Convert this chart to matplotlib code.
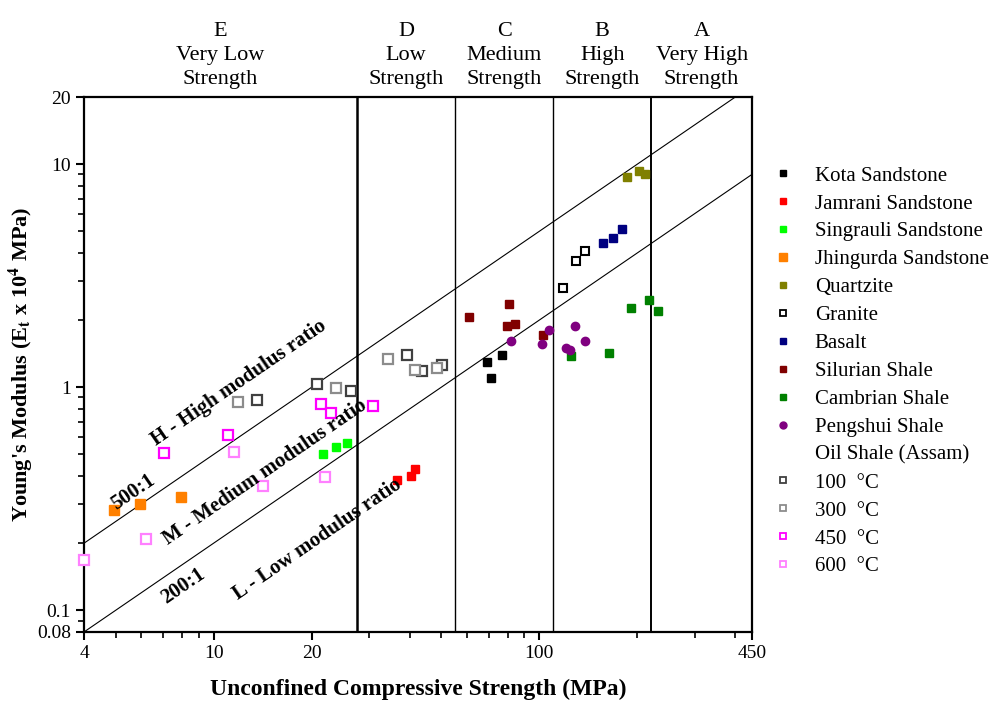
import matplotlib
matplotlib.use("Agg")
import matplotlib.pyplot as plt
from matplotlib.lines import Line2D
from matplotlib.ticker import FixedLocator, NullFormatter

plt.rcParams['font.family'] = ['Liberation Serif', 'DejaVu Serif']
plt.rcParams['mathtext.fontset'] = 'stix'

# rock data: UCS (MPa) and Young's modulus (x 1e4 MPa)
kota_x = [68.9, 70.9, 76.8]
kota_y = [1.30, 1.10, 1.40]
jamrani_x = [36.6, 40.4, 41.5]
jamrani_y = [0.384, 0.402, 0.432]
singrauli_x = [21.7, 23.7, 25.6]
singrauli_y = [0.504, 0.542, 0.563]
jhingurda_x = [4.95, 5.94, 7.94]
jhingurda_y = [0.282, 0.301, 0.322]
quartzite_x = [186.6, 203.0, 211.8]
quartzite_y = [8.79, 9.35, 9.06]
granite_x = [118.0, 129.9, 137.7]
granite_y = [2.80, 3.69, 4.09]
basalt_x = [156.8, 169.0, 179.2]
basalt_y = [4.41, 4.69, 5.12]
silurian_x = [60.9, 80.7, 79.4, 84.2, 102.9]
silurian_y = [2.06, 2.35, 1.89, 1.92, 1.71]
cambrian_x = [125.4, 163.6, 191.4, 216.8, 231.5]
cambrian_y = [1.38, 1.42, 2.27, 2.47, 2.19]
pengshui_x = [81.9, 107.4, 102.2, 128.3, 121.1, 123.9, 138.3]
pengshui_y = [1.62, 1.81, 1.56, 1.88, 1.50, 1.47, 1.61]

# oil shale (Assam) after heating
t100_x = [13.6, 20.8, 26.5, 39.2, 43.6, 50.2]
t100_y = [0.873, 1.039, 0.961, 1.40, 1.18, 1.256]
t300_x = [11.9, 23.7, 34.2, 41.5, 48.6]
t300_y = [0.861, 0.994, 1.344, 1.196, 1.221]
t450_x = [7.04, 11.05, 21.4, 22.9, 30.8]
t450_y = [0.508, 0.611, 0.845, 0.767, 0.820]
t600_x = [4.0, 6.2, 11.58, 14.2, 22.0]
t600_y = [0.168, 0.208, 0.511, 0.36, 0.398]

# strength class boundaries (MPa) and header labels
bounds = [4, 27.6, 55.2, 110.3, 220.6, 450]
bound_widths = [1.8, 1.0, 1.0, 1.4]
classes = ["E\nVery Low\nStrength", "D\nLow\nStrength", "C\nMedium\nStrength",
           "B\nHigh\nStrength", "A\nVery High\nStrength"]

x_major = [4, 10, 20, 100, 450]
y_major = [0.08, 0.1, 1, 10, 20]

filled = [
    ("Kota Sandstone", kota_x, kota_y, "black", 5.5),
    ("Jamrani Sandstone", jamrani_x, jamrani_y, "#ff0000", 5.5),
    ("Singrauli Sandstone", singrauli_x, singrauli_y, "#00ff00", 5.5),
    ("Jhingurda Sandstone", jhingurda_x, jhingurda_y, "#ff8000", 7),
    ("Quartzite", quartzite_x, quartzite_y, "#808000", 5.5),
]
filled2 = [
    ("Basalt", basalt_x, basalt_y, "#000080"),
    ("Silurian Shale", silurian_x, silurian_y, "#800000"),
    ("Cambrian Shale", cambrian_x, cambrian_y, "#008000"),
]
heated = [
    ("100  °C", t100_x, t100_y, "#404040"),
    ("300  °C", t300_x, t300_y, "#8c8c8c"),
    ("450  °C", t450_x, t450_y, "#ff00ff"),
    ("600  °C", t600_x, t600_y, "#ff80ff"),
]

fig = plt.figure(figsize=(9.93, 7.04), dpi=100)
ax = fig.add_axes([0.0846, 0.1023, 0.6727, 0.7599])
ax.set_xscale("log")
ax.set_yscale("log")
ax.set_xlim(4, 450)
ax.set_ylim(0.08, 20)

# modulus ratio lines
xs = [4, 450]
ax.plot(xs, [0.05 * v for v in xs], color="black", lw=0.8)
ax.plot(xs, [0.02 * v for v in xs], color="black", lw=0.8)

for b, w in zip(bounds[1:-1], bound_widths):
    ax.axvline(b, color="black", lw=w)

handles = []
labels = []
for name, x, y, c, ms in filled:
    ax.plot(x, y, "s", color=c, ms=ms, mec=c, ls="none", zorder=3)
    handles.append(Line2D([], [], marker="s", color=c, ms=ms - 1, ls="none"))
    labels.append(name)

ax.plot(granite_x, granite_y, "s", mfc="white", mec="black", mew=1.5, ms=6, zorder=3)
handles.append(Line2D([], [], marker="s", mfc="white", mec="black", mew=1.3, ms=5, ls="none"))
labels.append("Granite")

for name, x, y, c in filled2:
    ax.plot(x, y, "s", color=c, ms=5.5, ls="none", zorder=3)
    handles.append(Line2D([], [], marker="s", color=c, ms=4.5, ls="none"))
    labels.append(name)

ax.plot(pengshui_x, pengshui_y, "o", color="#800080", ms=6, ls="none", zorder=3)
handles.append(Line2D([], [], marker="o", color="#800080", ms=5, ls="none"))
labels.append("Pengshui Shale")

handles.append(Line2D([], [], ls="none"))
labels.append("Oil Shale (Assam)")

for name, x, y, c in heated:
    ax.plot(x, y, "s", mfc="white", mec=c, mew=1.6, ms=6.5, ls="none", zorder=3, clip_on=False)
    handles.append(Line2D([], [], marker="s", mfc="white", mec=c, mew=1.3, ms=5, ls="none"))
    labels.append(name)

fig.legend(handles, labels, loc="upper left", bbox_to_anchor=(0.768, 0.776),
           frameon=False, fontsize=15, labelspacing=0.40, handletextpad=0.9,
           handlelength=1.2, borderaxespad=0)

# header labels at the middle of each class band
for i, txt in enumerate(classes):
    mid = (bounds[i] * bounds[i + 1]) ** 0.5
    ax.text(mid, 1.015, txt, transform=ax.get_xaxis_transform(), ha="center",
            va="bottom", fontsize=16, linespacing=1.35)

# ratio annotations
rot = 34.5
kw = dict(fontsize=15, fontweight="bold", rotation=rot, rotation_mode="anchor",
          ha="center", va="center")
ax.text(11.96, 1.05, "H - High modulus ratio", **kw)
ax.text(5.65, 0.338, "500:1", **kw)
ax.text(14.4, 0.415, "M - Medium modulus ratio", **kw)
ax.text(8.06, 0.1285, "200:1", **kw)
ax.text(20.9, 0.208, "L - Low modulus ratio", **kw)

ax.xaxis.set_major_locator(FixedLocator(x_major))
ax.set_xticklabels([str(v) for v in x_major])
ax.xaxis.set_minor_locator(FixedLocator([5, 6, 7, 8, 9, 30, 40, 50, 60, 70, 80, 90, 200, 300, 400]))
ax.xaxis.set_minor_formatter(NullFormatter())
ax.yaxis.set_major_locator(FixedLocator(y_major))
ax.set_yticklabels(["0.08", "0.1", "1", "10", "20"])
ax.yaxis.set_minor_locator(FixedLocator([0.09, 0.2, 0.3, 0.4, 0.5, 0.6, 0.7, 0.8, 0.9,
                                         2, 3, 4, 5, 6, 7, 8, 9]))
ax.yaxis.set_minor_formatter(NullFormatter())
ax.tick_params(which="major", direction="out", length=6, width=1.5, labelsize=14)
ax.tick_params(which="minor", direction="out", length=4, width=1.2)
for s in ax.spines.values():
    s.set_linewidth(1.6)

ax.set_xlabel("Unconfined Compressive Strength (MPa)", fontsize=17, fontweight="bold", labelpad=12)
ax.set_ylabel("Young's Modulus (E$_\\mathbf{t}$ x 10$^\\mathbf{4}$ MPa)", fontsize=16,
              fontweight="bold", labelpad=1)

fig.savefig("out.png", dpi=100)
